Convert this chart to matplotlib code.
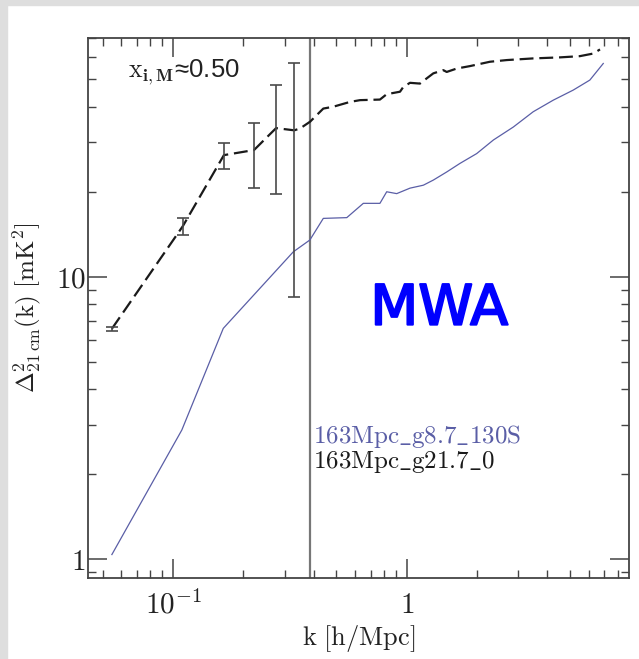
import matplotlib
matplotlib.use("Agg")
import matplotlib.pyplot as plt
import matplotlib.patheffects as pe
from matplotlib.patches import Rectangle
from matplotlib.ticker import FixedLocator, FixedFormatter, NullFormatter, LogLocator

plt.rcParams['mathtext.fontset'] = 'cm'
plt.rcParams['lines.scale_dashes'] = False

# ---- data ----
# dashed (163Mpc_g21.7_0) points with error bars
k_err = [0.0547, 0.110, 0.165, 0.222, 0.276, 0.330]
p_err = [6.55, 15.1, 26.96, 28.1, 33.6, 33.0]
p_err_hi = [6.65, 16.1, 29.8, 34.9, 47.7, 57.1]
p_err_lo = [6.44, 14.05, 24.0, 20.6, 19.7, 8.5]

# dashed line continuation beyond last error bar
k_dash_tail = [0.3495, 0.3857, 0.4395, 0.485, 0.572, 0.631, 0.768, 0.821, 0.936, 0.967,
               1.033, 1.14, 1.218, 1.30, 1.434, 1.483, 1.637, 1.866, 2.27, 2.68,
               3.48, 4.53, 5.51, 6.29, 6.72]
p_dash_tail = [33.5, 35.4, 39.4, 40.0, 41.6, 42.2, 42.4, 44.3, 45.2, 47.0,
               48.6, 48.3, 50.4, 52.5, 53.9, 53.1, 54.6, 55.7, 57.7, 58.5,
               59.3, 59.8, 60.4, 61.7, 63.8]

# solid blue (163Mpc_g8.7_130S)
k_blue = [0.0547, 0.109, 0.164, 0.327, 0.385, 0.4395, 0.554, 0.652, 0.768, 0.821,
          0.906, 1.033, 1.178, 1.30, 1.483, 1.69, 1.993, 2.35, 2.86, 3.48,
          4.24, 5.16, 6.08, 6.94]
p_blue = [1.04, 2.87, 6.57, 12.26, 13.5, 16.1, 16.2, 18.2, 18.2, 20.0,
          19.7, 20.6, 21.1, 22.0, 23.5, 25.2, 27.3, 30.5, 33.9, 38.4,
          42.2, 45.8, 49.7, 56.9]

k_vline = 0.386

xtick_vals = [0.1, 1]
xtick_labels = [r"$10^{-1}$", r"$1$"]
ytick_vals = [1, 10]
ytick_labels = [r"$1$", r"$10$"]

label_blue = r"$\mathrm{163Mpc\_g8.7\_130S}$"
label_black = r"$\mathrm{163Mpc\_g21.7\_0}$"

# ---- figure ----
fig = plt.figure(figsize=(6.39, 6.59), dpi=100)
fig.patches.append(Rectangle((0, 0), 7 / 639, 1, transform=fig.transFigure,
                             color='#dedede', zorder=0))
fig.patches.append(Rectangle((0, 1 - 5 / 659), 1, 5 / 659, transform=fig.transFigure,
                             color='#dedede', zorder=0))

ax = fig.add_axes([87.7 / 639, 1 - 578.3 / 659, (629.3 - 87.7) / 639, (578.3 - 37.7) / 659])
ax.set_xscale('log')
ax.set_yscale('log')
ax.set_xlim(0.0431, 8.97)
ax.set_ylim(0.857, 70.2)

frame_c = '#444444'
for s in ax.spines.values():
    s.set_color(frame_c)
    s.set_linewidth(1.3)

blue_c = '#5a5ea6'
ax.plot(k_blue, p_blue, color=blue_c, lw=0.9, zorder=3)

k_dash = k_err + k_dash_tail
p_dash = p_err + p_dash_tail
ax.plot(k_dash, p_dash, color='#1a1a1a', lw=1.6, ls=(0, (10, 4.2)), zorder=4)

yerr = [[p - lo for p, lo in zip(p_err, p_err_lo)],
        [hi - p for p, hi in zip(p_err, p_err_hi)]]
ax.errorbar(k_err, p_err, yerr=yerr, fmt='none', ecolor='#4a4a4a',
            elinewidth=1.2, capsize=4.5, capthick=1.2, zorder=5)

ax.axvline(k_vline, color='#777777', lw=1.6, zorder=2)

ax.xaxis.set_major_locator(FixedLocator(xtick_vals))
ax.xaxis.set_major_formatter(FixedFormatter(xtick_labels))
ax.yaxis.set_major_locator(FixedLocator(ytick_vals))
ax.yaxis.set_major_formatter(FixedFormatter(ytick_labels))
ax.xaxis.set_minor_locator(LogLocator(base=10, subs=range(2, 10)))
ax.yaxis.set_minor_locator(LogLocator(base=10, subs=range(2, 10)))
ax.xaxis.set_minor_formatter(NullFormatter())
ax.yaxis.set_minor_formatter(NullFormatter())

ax.tick_params(which='both', direction='in', top=True, right=True, color=frame_c)
ax.tick_params(which='major', length=13.5, width=1.1, labelsize=21, pad=9,
               labelcolor='#222222')
ax.tick_params(axis='y', which='major', pad=1.5)
ax.tick_params(which='minor', length=5.5, width=1.0)

ax.set_xlabel(r"$\mathrm{k\ [h/Mpc]}$", fontsize=19, color='#222222', labelpad=2)
ax.set_ylabel(r"$\Delta^2_{21\,\mathrm{cm}}(\mathrm{k})\ [\mathrm{mK}^2]$",
              fontsize=18, color='#222222')
ax.yaxis.set_label_coords(-0.083, 0.5)

ax.text(0.074, 0.927, r"$\mathrm{x}_{\mathbf{i,M}}$≈0.50", transform=ax.transAxes,
        fontsize=18.5, family=['Liberation Sans', 'DejaVu Sans'], color='#222222',
        va='baseline', ha='left')

ax.text(0.4154, 0.2505, label_blue, transform=ax.transAxes, fontsize=18,
        color=blue_c, va='baseline', ha='left')
ax.text(0.4154, 0.2040, label_black, transform=ax.transAxes, fontsize=18,
        color='#1a1a1a', va='baseline', ha='left')

ax.text(0.649, 0.497, "MWA", transform=ax.transAxes, fontsize=40,
        family='DejaVu Sans', color='#0000ff', ha='center', va='center',
        path_effects=[pe.withStroke(linewidth=1.5, foreground='#0000ff')])

fig.savefig("out.png", dpi=100)
